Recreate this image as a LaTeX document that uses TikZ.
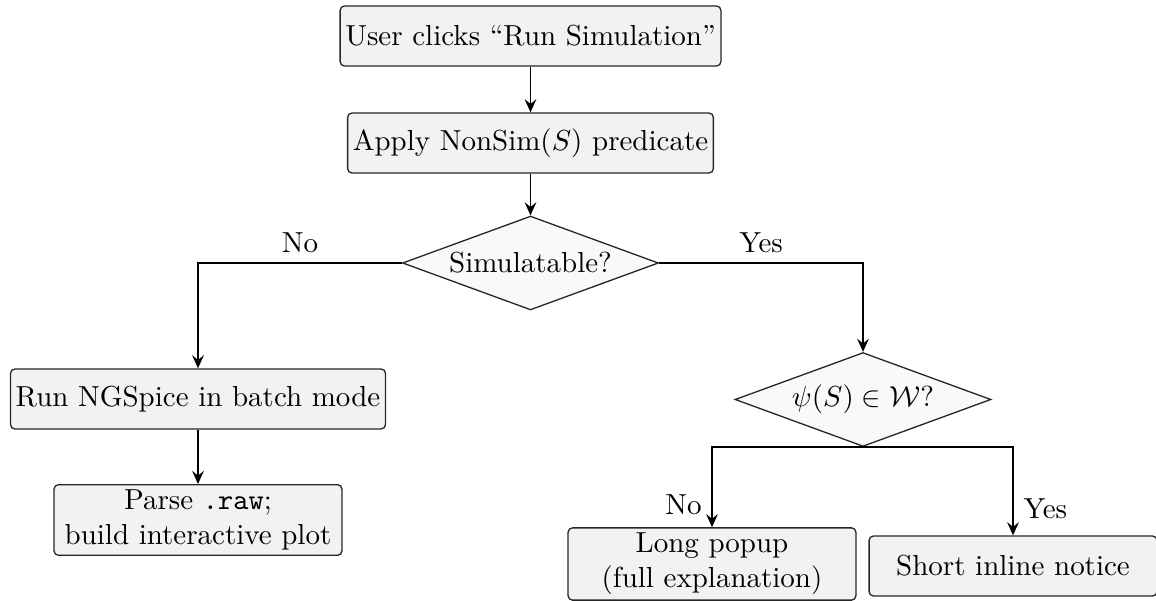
\documentclass[tikz,border=0pt]{standalone}
\usetikzlibrary{shapes.geometric,arrows.meta}
\begin{document}
\begin{tikzpicture}[x=0.345pt,y=-0.345pt,
  procbox/.style={draw=black!85, line width=0.45pt, fill=black!5, rounded corners=1.5pt,
    inner xsep=1.8pt, inner ysep=1.8pt, minimum height=20.7pt, align=center},
  widebox/.style={procbox, text width=95.7pt},
  decbox/.style={draw=black!85, line width=0.45pt, fill=black!2.5, diamond, aspect=2.72,
    inner sep=1pt, minimum width=88.3pt, minimum height=32.4pt},
  flow/.style={line width=0.65pt, -{Stealth[length=4.5pt,width=4pt,inset=1.6pt]}},
  lbl/.style={inner sep=3.3pt}
]
\useasboundingbox (0,0) rectangle (1156,601);

\node[procbox] (u1) at (530.5,36) {User clicks ``Run Simulation''};
\node[procbox] (ap) at (530.5,143) {Apply NonSim$(S)$ predicate};
\node[decbox] (d1) at (530.5,263) {Simulatable?};
\node[procbox] (run) at (198,399) {Run NGSpice in batch mode};
\node[widebox] (parse) at (198,520) {Parse \texttt{.raw};\\build interactive plot};
\node[decbox] (d2) at (863,399.5) {$\psi(S)\in\mathcal{W}$?};
\node[widebox] (long) at (712,564) {Long popup\\(full explanation)};
\node[widebox] (short) at (1013,566) {Short inline notice};

\draw[flow] (u1.south) -- (ap.north);
\draw[flow] (ap.south) -- (d1.north);
\draw[flow] (d1.west) -| node[lbl, above, pos=0.25] {No} (run.north);
\draw[flow] (d1.east) -| node[lbl, above, pos=0.25] {Yes} (d2.north);
\draw[flow] (run.south) -- (parse.north);
\draw[flow] (d2.south) -| node[lbl, left, pos=0.86] {No} (long.north);
\draw[flow] (d2.south) -| node[lbl, right, pos=0.85] {Yes} (short.north);
\end{tikzpicture}
\end{document}
